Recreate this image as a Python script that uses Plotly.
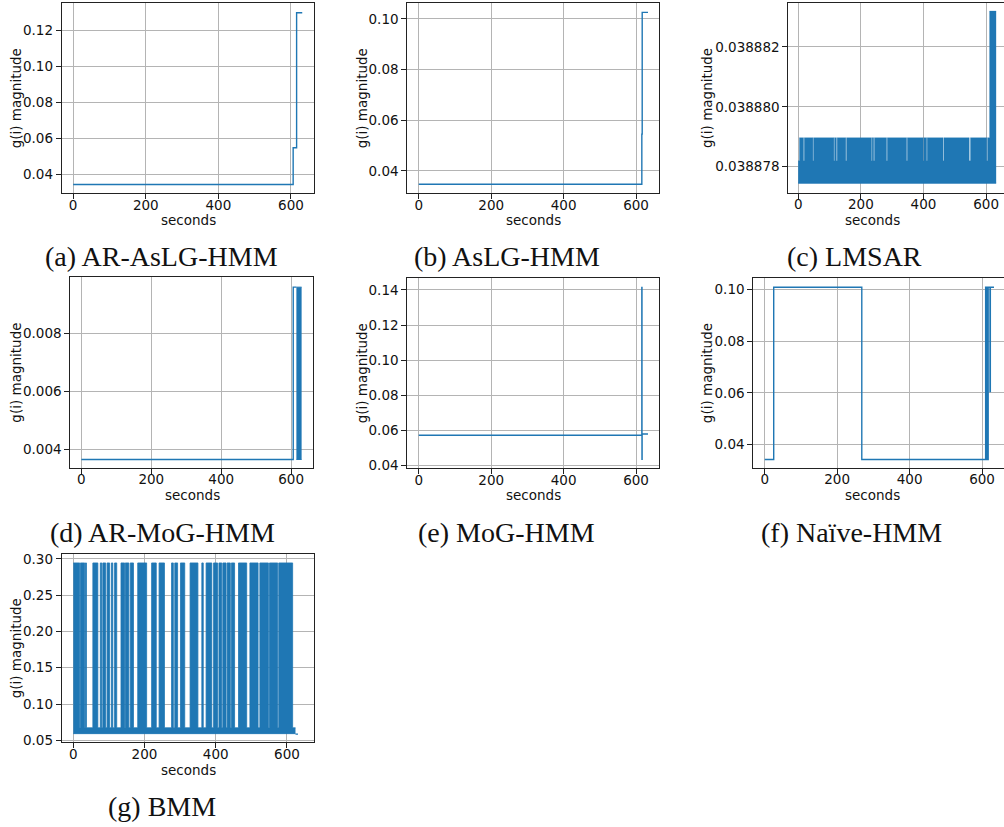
import plotly.graph_objects as go

# ---------------- data ----------------
ar_aslg_t = [0, 606, 615.5, 631]
ar_aslg_v = [0.0346, 0.0549, 0.1296]

aslg_t = [0, 616, 617, 633]
aslg_v = [0.0347, 0.0545, 0.1026]

lmsar_floor = 0.03887745
lmsar_ceiling = 0.03887897
lmsar_gap_level = 0.0388782
lmsar_gaps = [(0, 4), (17, 19.5), (47, 49), (114, 116), (122, 124.5), (152, 154.5),
              (234, 236), (241, 243.5), (282, 284.5), (346, 348.5), (399, 401),
              (410, 412), (463, 465.5), (546, 550), (602, 604.5)]
lmsar_spike = (611, 632, 0.0388832)
lmsar_end = 632

ar_mog_t = [0, 606, 615]
ar_mog_v = [0.00365, 0.00959]
ar_mog_band = (615, 630, 0.00365, 0.00959)

mog_t = [0, 616, 616.4, 616.8, 633]
mog_v = [0.0573, 0.1415, 0.0436, 0.058]

naive_t = [0, 24.8, 268, 610, 612, 613, 615, 617, 622, 623, 633]
naive_v = [0.0343, 0.1008, 0.0343, 0.1008, 0.0343, 0.1008, 0.0343, 0.1008, 0.0605, 0.1008]

bmm_floor = 0.0592
bmm_ceiling = 0.0672
bmm_peak = 0.2945
bmm_band_end = 624
bmm_bursts = [(0, 18), (20, 32), (34, 37), (55, 69), (76, 80), (83, 91), (95, 102),
              (107, 111), (116, 122), (134, 144), (146, 156), (160, 169), (181, 206),
              (220, 233), (241, 256), (276, 281), (285, 293), (301, 313), (328, 350),
              (361, 365), (373, 389), (394, 405), (409, 417), (420, 429), (432, 441),
              (444, 453), (464, 487), (496, 519), (524, 548), (551, 574), (577, 616)]
bmm_tail_t = [624, 631]
bmm_tail_v = [0.0585]

captions = ["(a) AR-AsLG-HMM", "(b) AsLG-HMM", "(c) LMSAR", "(d) AR-MoG-HMM",
            "(e) MoG-HMM", "(f) Naïve-HMM", "(g) BMM"]
y_ticks = [
    [0.04, 0.06, 0.08, 0.10, 0.12],
    [0.04, 0.06, 0.08, 0.10],
    [0.038878, 0.038880, 0.038882],
    [0.004, 0.006, 0.008],
    [0.04, 0.06, 0.08, 0.10, 0.12, 0.14],
    [0.04, 0.06, 0.08, 0.10],
    [0.05, 0.10, 0.15, 0.20, 0.25, 0.30],
]
x_ticks = [0, 200, 400, 600]

# ---------------- helpers ----------------
W, H = 1004, 827
BLUE = "#1f77b4"


def step_xy(t, v):
    return list(t), list(v) + [v[-1]]


def envelope(start, end, base, intervals):
    t, v, cur = [], [], start
    for s, e, val in sorted(intervals):
        if s > cur:
            t.append(cur); v.append(base)
        t.append(s); v.append(val)
        cur = e
    if cur < end:
        t.append(cur); v.append(base)
    t.append(end); v.append(v[-1])
    return t, v


fig = go.Figure()


def add_line(i, t, v, width=1.4):
    x, y = step_xy(t, v)
    fig.add_trace(go.Scatter(x=x, y=y, mode="lines", line=dict(color=BLUE, width=width, shape="hv"),
                             xaxis=f"x{i}", yaxis=f"y{i}", showlegend=False, hoverinfo="skip"))


def add_band(i, start, end, floor, top_t, top_v, edge=0.6):
    fig.add_trace(go.Scatter(x=[start, end], y=[floor, floor], mode="lines",
                             line=dict(color=BLUE, width=1), xaxis=f"x{i}", yaxis=f"y{i}",
                             showlegend=False, hoverinfo="skip"))
    fig.add_trace(go.Scatter(x=top_t, y=top_v, mode="lines", fill="tonexty", fillcolor=BLUE,
                             line=dict(color=BLUE, width=edge, shape="hv"), xaxis=f"x{i}", yaxis=f"y{i}",
                             showlegend=False, hoverinfo="skip"))


# (a)
add_line(1, ar_aslg_t, ar_aslg_v)
# (b)
add_line(2, aslg_t, aslg_v)
# (c)
lm_int = [(s, e, lmsar_gap_level) for s, e in lmsar_gaps] + [lmsar_spike]
tt, tv = envelope(0, lmsar_end, lmsar_ceiling, lm_int)
add_band(3, 0, lmsar_end, lmsar_floor, tt, tv, edge=0.3)
# (d)
add_line(4, ar_mog_t, ar_mog_v)
s, e, lo, hi = ar_mog_band
add_band(4, s, e, lo, [s, e], [hi, hi], edge=1)
# (e)
add_line(5, mog_t, mog_v)
# (f)
add_line(6, naive_t, naive_v)
# (g)
tt, tv = envelope(0, bmm_band_end, bmm_ceiling, [(s, e, bmm_peak) for s, e in bmm_bursts])
add_band(7, 0, bmm_band_end, bmm_floor, tt, tv, edge=0.8)
add_line(7, bmm_tail_t, bmm_tail_v)

# ---------------- layout ----------------
# pixel boxes: (left, right, top, bottom), x range, y range, tick format, ytitle x, xtitle y, caption centre
panels = [
    ((61.7, 314, 3.3, 193.3), [-31.6, 663.4], [0.0297, 0.1348], ".2f", 16, 220, (161, 256), True),
    ((407.3, 659, 3.3, 193.3), [-31.6, 663.4], [0.0311, 0.1062], ".2f", 362, 220, (507, 256), True),
    ((788.3, 1004, 3.3, 192.7), [-31.6, 657.0], [0.03887713, 0.03888346], ".6f", 707, 220, (854, 256), False),
    ((70.3, 313.3, 277.3, 468), [-31.6, 663.4], [0.003356, 0.00993], ".3f", 16, 495, (162, 532), True),
    ((407.3, 659, 278.3, 468.3), [-31.6, 663.4], [0.03848, 0.14664], ".2f", 362, 495, (506, 532), True),
    ((753.3, 1004, 278.3, 468), [-31.6, 660.7], [0.031, 0.10425], ".2f", 707, 495, (851, 532), False),
    ((61.7, 314, 554.3, 742.3), [-32.5, 676.0], [0.04724, 0.30643], ".2f", 16, 770, (162, 806), True),
]
xtitle_centres = [188, 533, 872, 192, 533, 872, 188]

TICKFONT = dict(family="DejaVu Sans", size=13.5, color="#111")
layout = dict(width=W, height=H, margin=dict(l=0, r=0, t=0, b=0, autoexpand=False),
              paper_bgcolor="white", plot_bgcolor="white", showlegend=False)
annotations = []
for k, (box, xr, yr, fmt, ytx, xty, cap, mirror_r) in enumerate(panels):
    i = k + 1
    l, r, t, b = box
    sx = "" if i == 1 else str(i)
    layout[f"xaxis{sx}"] = dict(domain=[l / W, r / W], range=xr, anchor=f"y{i}", tickvals=x_ticks,
                                 automargin=False, ticklabelstandoff=-6,
                                 showgrid=True, gridcolor="#b4b4b4", gridwidth=1, zeroline=False,
                                 showline=True, linecolor="#222", linewidth=1, mirror=True,
                                 ticks="outside", ticklen=5, tickcolor="#222", tickfont=TICKFONT)
    layout[f"yaxis{sx}"] = dict(domain=[1 - b / H, 1 - t / H], range=yr, anchor=f"x{i}",
                                 tickvals=y_ticks[k], tickformat=fmt, automargin=False,
                                 showgrid=True, gridcolor="#b4b4b4", gridwidth=1, zeroline=False,
                                 showline=True, linecolor="#222", linewidth=1,
                                 mirror=True if mirror_r else False,
                                 ticks="outside", ticklen=5, tickcolor="#222", tickfont=TICKFONT)
    annotations.append(dict(text="g(i) magnitude", textangle=-90, x=ytx / W, y=1 - (t + b) / 2 / H,
                            xref="paper", yref="paper", xanchor="center", yanchor="middle",
                            showarrow=False, font=dict(family="DejaVu Sans", size=13.5, color="#111")))
    annotations.append(dict(text="seconds", x=xtitle_centres[k] / W,
                            y=1 - xty / H, xref="paper", yref="paper", xanchor="center", yanchor="middle",
                            showarrow=False, font=dict(family="DejaVu Sans", size=13.5, color="#111")))
    annotations.append(dict(text=captions[k], x=cap[0] / W, y=1 - cap[1] / H, xref="paper", yref="paper",
                            xanchor="center", yanchor="middle", showarrow=False,
                            font=dict(family="Liberation Serif", size=28, color="#111")))

layout["annotations"] = annotations
fig.update_layout(**layout)
fig.write_html("out.html", config={"displayModeBar": False},
               post_script="document.body.style.margin='0';document.body.style.overflow='hidden';")
